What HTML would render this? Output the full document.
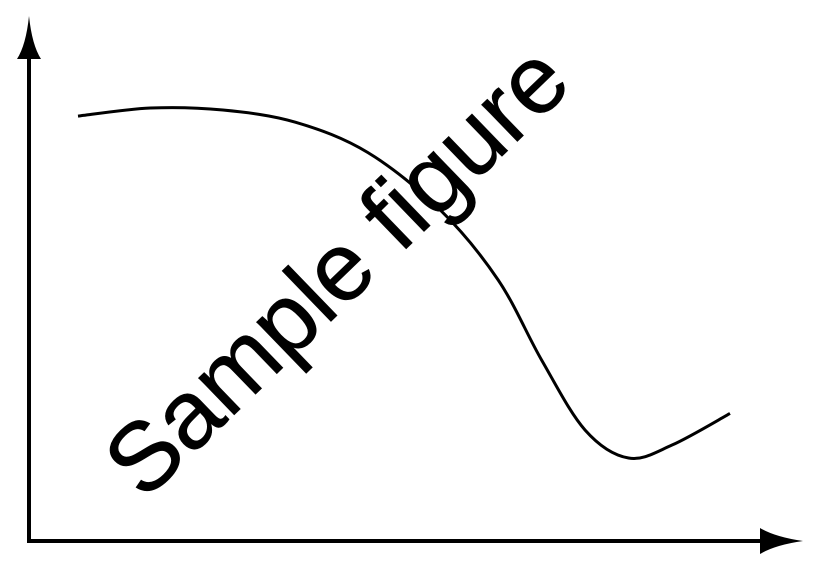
<!DOCTYPE html>
<html><head><meta charset="utf-8"><style>html,body{margin:0;padding:0;background:#fff}svg{display:block}</style></head>
<body>
<svg id="chart" width="820" height="570" viewBox="0 0 820 570" xmlns="http://www.w3.org/2000/svg">
<line x1="29" y1="543" x2="29" y2="40" stroke="#000" stroke-width="4"/>
<path d="M29,16 Q32,45 41,59 L17,59 Q26,45 29,16 Z" fill="#000"/>
<line x1="27" y1="541" x2="780" y2="541" stroke="#000" stroke-width="4"/>
<path d="M803,541 Q775,545 760,554 L760,528 Q775,537 803,541 Z" fill="#000"/>
<path id="curve" fill="none" stroke="#000" stroke-width="3"/>
<text x="0" y="0" transform="translate(336,270) rotate(-44)" text-anchor="middle" dominant-baseline="central" font-family="Liberation Sans, Arial, sans-serif" font-size="97" fill="#000" stroke="#000" stroke-width="0.6">Sample figure</text>
</svg>
<script>
const xValues = [0, 1, 2, 3, 4, 5, 5.8, 6.4, 7, 7.6, 8.2, 9];
const yValues = [9.4, 9.6, 9.55, 9.25, 8.5, 7.08, 5.35, 3.37, 1.64, 0.95, 1.27, 2.05];
function sx(v){ return 78 + v * (730 - 78) / 9; }
function sy(v){ return 458 - (v - 0.95) * 40.46; }
function catmull(pts){
  let d = 'M' + pts[0][0] + ',' + pts[0][1];
  for (let i = 0; i < pts.length - 1; i++) {
    const p0 = pts[i-1] || pts[i], p1 = pts[i], p2 = pts[i+1], p3 = pts[i+2] || p2;
    const c1 = [p1[0] + (p2[0]-p0[0])/6, p1[1] + (p2[1]-p0[1])/6];
    const c2 = [p2[0] - (p3[0]-p1[0])/6, p2[1] - (p3[1]-p1[1])/6];
    d += ' C' + c1.join(',') + ' ' + c2.join(',') + ' ' + p2.join(',');
  }
  return d;
}
const pts = xValues.map((x, i) => [sx(x), sy(yValues[i])]);
document.getElementById('curve').setAttribute('d', catmull(pts));
</script>
</body></html>
